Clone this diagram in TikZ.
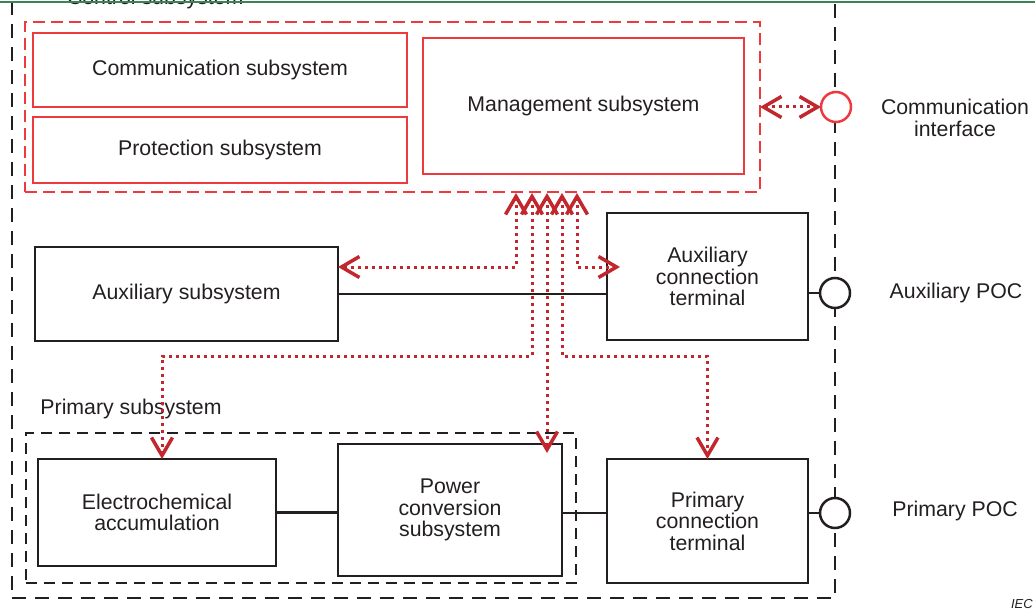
\documentclass[tikz,border=0pt]{standalone}
\usepackage{fontspec}
\setmainfont{Liberation Sans}
\usetikzlibrary{arrows.meta,calc}
\definecolor{ink}{HTML}{231F20}
\definecolor{boxred}{HTML}{EE3A3F}
\definecolor{sigred}{HTML}{C1272D}
\definecolor{topgreen}{HTML}{3B8552}

\begin{document}
\begin{tikzpicture}[x=1pt,y=-1pt,
	every node/.style={text=ink,font=\fontsize{21.3}{21.5}\selectfont,inner sep=0pt,outer sep=0pt},
	blk/.style={draw=ink,line width=2.5pt,align=center},
	ctlblk/.style={draw=boxred,line width=2.5pt},
	grp/.style={draw=ink,line width=2.5pt,dash pattern=on 14pt off 9pt},
	poc/.style={circle,draw=ink,fill=white,line width=2.5pt,minimum size=30pt},
	wire/.style={draw=ink,line width=2.5pt},
	sig/.style={draw=sigred,line width=3pt,dash pattern=on 3pt off 4pt,<->,
		>={Straight Barb[length=18pt,width=21pt,line width=3.5pt]}}]
	\useasboundingbox (0,0) rectangle (1035,612);
	\node[grp,minimum width=823pt,minimum height=660pt] (bess) at (423.5,268) {};
	\node[anchor=base west] (ctllbl) at (67,5) {Control subsystem};
	\node[ctlblk,dash pattern=on 12pt off 6pt,minimum width=735pt,minimum height=170pt] (ctl) at (392.5,107) {};
	\node[ctlblk,minimum width=374pt,minimum height=74pt] (comm) at (220,70) {Communication subsystem};
	\node[ctlblk,minimum width=374pt,minimum height=66pt] (prot) at (220,150) {Protection subsystem};
	\node[ctlblk,minimum width=321pt,minimum height=136pt] (mgmt) at (583.5,106) {Management subsystem};
	\node[blk,minimum width=303pt,minimum height=94pt] (aux) at (186.5,294) {Auxiliary subsystem};
	\node[blk,minimum width=201pt,minimum height=127pt] (aterm) at (707.5,276.5) {Auxiliary\\connection\\terminal};
	\node[grp,dash pattern=on 11pt off 7pt,minimum width=550pt,minimum height=150pt] (prim) at (301,508) {};
	\node (primlbl) at (131,409) {Primary subsystem};
	\node[blk,minimum width=238pt,minimum height=107pt] (ech) at (157,512.5) {Electrochemical\\accumulation};
	\node[blk,minimum width=224pt,minimum height=132pt] (pcs) at (450,510) {Power\\conversion\\subsystem};
	\node[blk,minimum width=201pt,minimum height=124pt] (pct) at (707.5,521) {Primary\\connection\\terminal};
	\node[poc,draw=boxred] (ci) at (836,107) {};
	\node[poc] (apoc) at (835,293) {};
	\node[poc] (ppoc) at (835,513) {};
	\node[align=center] (cilbl) at (955,118) {Communication\\interface};
	\node (apoclbl) at (956,293) {Auxiliary POC};
	\node (ppoclbl) at (955,511) {Primary POC};
	\node[anchor=base west,font=\itshape\fontsize{13}{13}\selectfont] (iec) at (1011,608) {IEC};

	\draw[wire] (aux.east) -- (aux.east -| aterm.west);
	\draw[wire] (apoc.west -| aterm.east) -- (apoc.west);
	\draw[wire] (ech.east) -- (ech.east -| pcs.west);
	\draw[wire] (pcs.east |- ppoc) -- (pct.west |- ppoc);
	\draw[wire] (ppoc.west -| pct.east) -- (ppoc.west);

	\foreach \i/\x in {1/516,2/532,3/547,4/562,5/577}
		\coordinate (a\i) at (\x,193);
	\draw[sig] (a1) |- ([yshift=27pt]aux.east);
	\draw[sig] (a2) -- ++(0,163) -| ([xshift=5pt]ech.north);
	\draw[sig] (a3) -- ($(a3 |- pcs.north)+(0,9)$);
	\draw[sig] (a4) -- ++(0,163) -| (pct.north);
	\draw[sig] (a5) |- ([xshift=13pt,yshift=9.5pt]aterm.west);
	\draw[sig] (ctl.east) -- (ci);

	\draw[topgreen,line width=2.5pt] (0,2) -- (1035,2);
\end{tikzpicture}
\end{document}
